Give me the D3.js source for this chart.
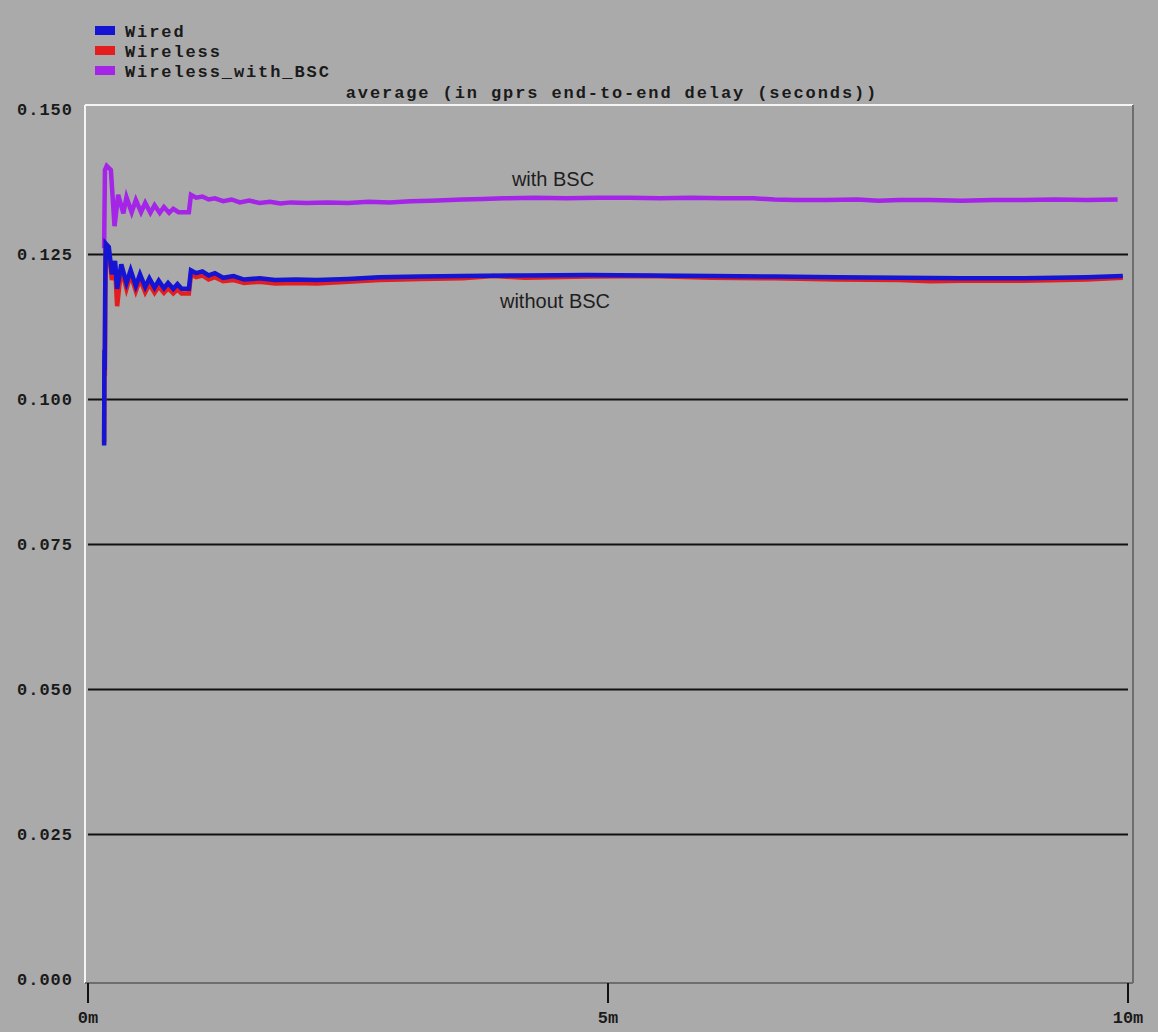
<!DOCTYPE html>
<html>
<head>
<meta charset="utf-8">
<script src="https://cdn.jsdelivr.net/npm/d3@7"></script>
<style>
  html, body { margin: 0; padding: 0; background: #aaaaaa; }
  svg { display: block; }
</style>
</head>
<body>
<div class="chart"></div>
<script>
// series names and colours (legend order)
const seriesNames = ['Wired', 'Wireless', 'Wireless_with_BSC']
const seriesColors = ['#1414d2', '#e41e1e', '#a424e8']

// axis ticks
const yTicks = [0, 0.025, 0.05, 0.075, 0.1, 0.125, 0.15]
const yTickLabels = ['0.000', '0.025', '0.050', '0.075', '0.100', '0.125', '0.150']
const xTicks = [0, 5, 10]
const xTickLabels = ['0m', '5m', '10m']

// time in minutes, value in seconds
const wiredTime = [0.155, 0.158, 0.161, 0.165, 0.17, 0.2, 0.23, 0.26, 0.28, 0.32, 0.37, 0.41, 0.46, 0.5, 0.55, 0.59, 0.64, 0.68, 0.73, 0.77, 0.82, 0.86, 0.9, 0.97, 0.99, 1.04, 1.1, 1.16, 1.22, 1.3, 1.4, 1.5, 1.65, 1.8, 2.0, 2.2, 2.5, 2.8, 3.2, 3.6, 4.2, 4.8, 5.4, 6.0, 6.6, 7.2, 7.8, 8.4, 9.0, 9.6, 9.95]
const wiredValue = [0.0920, 0.1085, 0.1050, 0.1180, 0.1268, 0.1262, 0.1215, 0.1238, 0.1190, 0.1232, 0.1200, 0.1222, 0.1195, 0.1215, 0.1193, 0.1208, 0.1192, 0.1204, 0.1191, 0.1200, 0.1190, 0.1198, 0.1190, 0.1190, 0.1222, 0.1217, 0.1220, 0.1213, 0.1217, 0.1209, 0.1212, 0.1206, 0.1208, 0.1205, 0.1206, 0.1205, 0.1207, 0.1210, 0.1211, 0.1212, 0.1213, 0.1214, 0.1213, 0.1212, 0.1211, 0.1210, 0.1209, 0.1208, 0.1208, 0.1210, 0.1212]

const wirelessTime = [0.155, 0.158, 0.162, 0.166, 0.172, 0.2, 0.23, 0.26, 0.28, 0.32, 0.37, 0.41, 0.46, 0.5, 0.55, 0.59, 0.64, 0.68, 0.73, 0.77, 0.82, 0.86, 0.9, 0.97, 0.99, 1.04, 1.1, 1.16, 1.22, 1.3, 1.4, 1.5, 1.65, 1.8, 2.0, 2.2, 2.5, 2.8, 3.2, 3.6, 3.9, 4.2, 4.8, 5.4, 6.0, 6.6, 7.2, 7.8, 8.1, 8.4, 9.0, 9.6, 9.95]
const wirelessValue = [0.0925, 0.1070, 0.1040, 0.1170, 0.1262, 0.1255, 0.1205, 0.1230, 0.1160, 0.1225, 0.1190, 0.1214, 0.1186, 0.1206, 0.1184, 0.1198, 0.1183, 0.1194, 0.1183, 0.1191, 0.1182, 0.1189, 0.1182, 0.1182, 0.1215, 0.1210, 0.1213, 0.1206, 0.1210, 0.1203, 0.1205, 0.1200, 0.1202, 0.1199, 0.1200, 0.1199, 0.1202, 0.1205, 0.1207, 0.1208, 0.1212, 0.1209, 0.1211, 0.1212, 0.1209, 0.1208, 0.1206, 0.1205, 0.1203, 0.1204, 0.1204, 0.1206, 0.1209]

const bscTime = [0.155, 0.163, 0.18, 0.22, 0.255, 0.29, 0.34, 0.37, 0.42, 0.46, 0.51, 0.55, 0.6, 0.64, 0.69, 0.73, 0.78, 0.82, 0.87, 0.97, 0.99, 1.04, 1.1, 1.16, 1.22, 1.3, 1.38, 1.46, 1.55, 1.65, 1.75, 1.85, 1.95, 2.1, 2.3, 2.5, 2.7, 2.9, 3.1, 3.3, 3.6, 3.8, 4.0, 4.3, 4.6, 4.9, 5.2, 5.5, 5.8, 6.1, 6.4, 6.6, 6.8, 7.1, 7.4, 7.6, 7.8, 8.1, 8.4, 8.7, 9.0, 9.3, 9.6, 9.9]
const bscValue = [0.1260, 0.1395, 0.1402, 0.1395, 0.1298, 0.1352, 0.1320, 0.1348, 0.1322, 0.1343, 0.1322, 0.1338, 0.1321, 0.1334, 0.1321, 0.1331, 0.1321, 0.1328, 0.1322, 0.1322, 0.1352, 0.1347, 0.1349, 0.1344, 0.1346, 0.1341, 0.1344, 0.1339, 0.1342, 0.1338, 0.1340, 0.1337, 0.1339, 0.1338, 0.1339, 0.1338, 0.1340, 0.1339, 0.1341, 0.1342, 0.1344, 0.1345, 0.1346, 0.1347, 0.1346, 0.1347, 0.1347, 0.1346, 0.1347, 0.1346, 0.1346, 0.1344, 0.1343, 0.1343, 0.1344, 0.1342, 0.1343, 0.1343, 0.1342, 0.1343, 0.1343, 0.1344, 0.1343, 0.1344]

const width = 1158
const height = 1032
const monoFont = '"Liberation Mono", "DejaVu Sans Mono", monospace'

const svg = d3.select('.chart').append('svg')
  .attr('width', width)
  .attr('height', height)
  .attr('viewBox', [0, 0, width, height])

svg.append('rect')
  .attr('width', width).attr('height', height)
  .attr('fill', '#aaaaaa')

const x = d3.scaleLinear().domain([0, 10]).range([88, 1128])
const y = d3.scaleLinear().domain([0, 0.15]).range([979, 109])

// frame
const frameLeft = 85, frameRight = 1133, frameTop = 105, frameBottom = 983
svg.append('line')
  .attr('x1', frameLeft).attr('x2', frameRight).attr('y1', frameTop).attr('y2', frameTop)
  .attr('stroke', '#f4f4f4').attr('stroke-width', 2)
svg.append('line')
  .attr('x1', frameLeft).attr('x2', frameLeft).attr('y1', frameTop).attr('y2', frameBottom)
  .attr('stroke', '#f4f4f4').attr('stroke-width', 2)
svg.append('line')
  .attr('x1', frameRight).attr('x2', frameRight).attr('y1', frameTop).attr('y2', frameBottom)
  .attr('stroke', '#6e6e6e').attr('stroke-width', 2)
svg.append('line')
  .attr('x1', frameLeft).attr('x2', frameRight).attr('y1', frameBottom).attr('y2', frameBottom)
  .attr('stroke', '#6e6e6e').attr('stroke-width', 2)

// horizontal grid
svg.append('g')
  .selectAll('line')
  .data(yTicks.filter(d => d > 0 && d < 0.15))
  .join('line')
  .attr('x1', x(0)).attr('x2', x(10))
  .attr('y1', d => Math.round(y(d)) + 0.5)
  .attr('y2', d => Math.round(y(d)) + 0.5)
  .attr('stroke', '#111').attr('stroke-width', 2)

// y labels
svg.append('g')
  .selectAll('text')
  .data(yTicks)
  .join('text')
  .attr('x', 73)
  .attr('y', d => y(d) + 6)
  .attr('text-anchor', 'end')
  .attr('font-family', monoFont)
  .attr('font-size', 17)
  .attr('font-weight', 'bold')
  .attr('letter-spacing', 1)
  .attr('fill', '#1a1a1a')
  .text((d, i) => yTickLabels[i])

// x ticks and labels
const xg = svg.append('g')
xg.selectAll('line')
  .data(xTicks)
  .join('line')
  .attr('x1', d => x(d)).attr('x2', d => x(d))
  .attr('y1', frameBottom).attr('y2', 1003)
  .attr('stroke', '#111').attr('stroke-width', 2)
xg.selectAll('text')
  .data(xTicks)
  .join('text')
  .attr('x', d => x(d))
  .attr('y', 1023)
  .attr('text-anchor', 'middle')
  .attr('font-family', monoFont)
  .attr('font-size', 17)
  .attr('font-weight', 'bold')
  .attr('fill', '#1a1a1a')
  .text((d, i) => xTickLabels[i])

// title
svg.append('text')
  .attr('x', 612).attr('y', 98)
  .attr('text-anchor', 'middle')
  .attr('font-family', monoFont)
  .attr('font-size', 17)
  .attr('font-weight', 'bold')
  .attr('letter-spacing', 1.9)
  .attr('fill', '#1a1a1a')
  .text('average (in gprs end-to-end delay (seconds))')

// legend
const legend = svg.append('g')
seriesNames.forEach((name, i) => {
  legend.append('rect')
    .attr('x', 95).attr('y', 26 + i * 20)
    .attr('width', 20).attr('height', 9)
    .attr('fill', seriesColors[i])
  legend.append('text')
    .attr('x', 125).attr('y', 37 + i * 20)
    .attr('font-family', monoFont)
    .attr('font-size', 17)
    .attr('font-weight', 'bold')
    .attr('letter-spacing', 1.9)
    .attr('fill', '#1a1a1a')
    .text(name)
})

// lines
const line = d3.line()
  .x(d => x(d[0]))
  .y(d => y(d[1]))

const series = [
  { time: bscTime, value: bscValue, color: seriesColors[2] },
  { time: wirelessTime, value: wirelessValue, color: seriesColors[1] },
  { time: wiredTime, value: wiredValue, color: seriesColors[0] }
]

series.forEach(s => {
  svg.append('path')
    .datum(s.time.map((t, i) => [t, s.value[i]]))
    .attr('d', line)
    .attr('fill', 'none')
    .attr('stroke', s.color)
    .attr('stroke-width', 4.5)
    .attr('stroke-linejoin', 'miter')
})

// annotations
svg.append('text')
  .attr('x', 553).attr('y', 186)
  .attr('text-anchor', 'middle')
  .attr('font-family', '"Liberation Sans", Arial, sans-serif')
  .attr('font-size', 20)
  .attr('fill', '#1e1e1e')
  .text('with BSC')
svg.append('text')
  .attr('x', 555).attr('y', 308)
  .attr('text-anchor', 'middle')
  .attr('font-family', '"Liberation Sans", Arial, sans-serif')
  .attr('font-size', 20)
  .attr('fill', '#1e1e1e')
  .text('without BSC')
</script>
</body>
</html>
